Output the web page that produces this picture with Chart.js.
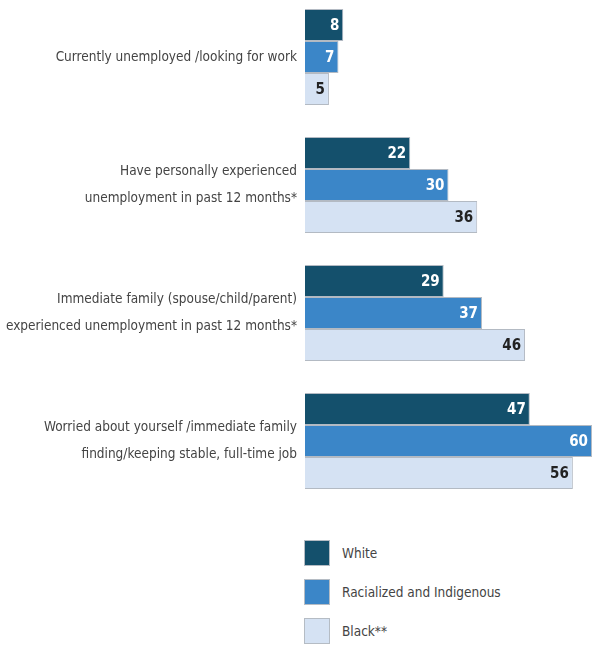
<!DOCTYPE html>
<html>
<head>
<meta charset="utf-8">
<script src="https://cdn.jsdelivr.net/npm/chart.js@4"></script>
<style>
  body { margin: 0; background: #fff; width: 593px; height: 647px; overflow: hidden; position: relative; }
  #chart { position: absolute; left: 0; top: -7px; }
  #legend { position: absolute; left: 304px; top: 540px; font-family: "DejaVu Sans Condensed", sans-serif; font-size: 13.5px; color: #444; }
  .item { height: 26px; margin-bottom: 13px; display: flex; align-items: center; }
  .box { width: 26px; height: 26px; border: 1px solid #b5bcc4; box-sizing: border-box; margin-right: 12px; }
</style>
</head>
<body>
<canvas id="chart" width="593" height="512"></canvas>
<div id="legend"></div>
<script>
const categories = [
    ['Currently unemployed /looking for work'],
    ['Have personally experienced', 'unemployment in past 12 months*'],
    ['Immediate family (spouse/child/parent)', 'experienced unemployment in past 12 months*'],
    ['Worried about yourself /immediate family', 'finding/keeping stable, full-time job']
];
const seriesNames = ['White', 'Racialized and Indigenous', 'Black**'];
const white = [8, 22, 29, 47];
const racialized = [7, 30, 37, 60];
const black = [5, 36, 46, 56];

const colors = ['#14506c', '#3b86c8', '#d5e2f3'];
const labelColors = ['#ffffff', '#ffffff', '#222222'];
const fontFamily = '"DejaVu Sans Condensed", sans-serif';

// draw values at the end of each bar
const valueLabels = {
    id: 'valueLabels',
    afterDatasetsDraw(chart) {
        const ctx = chart.ctx;
        ctx.save();
        ctx.font = 'bold 15px ' + fontFamily;
        ctx.textAlign = 'right';
        ctx.textBaseline = 'middle';
        chart.data.datasets.forEach((ds, i) => {
            const meta = chart.getDatasetMeta(i);
            ctx.fillStyle = labelColors[i];
            meta.data.forEach((bar, j) => {
                ctx.fillText(ds.data[j], bar.x - 4, bar.y + 1);
            });
        });
        ctx.restore();
    }
};

const seriesData = [white, racialized, black];

new Chart(document.getElementById('chart').getContext('2d'), {
    type: 'bar',
    data: {
        labels: categories,
        datasets: seriesNames.map((name, i) => ({
            label: name,
            data: seriesData[i],
            backgroundColor: colors[i],
            borderColor: '#b3bac3',
            borderWidth: 1,
            barPercentage: 1,
            categoryPercentage: 0.75
        }))
    },
    options: {
        indexAxis: 'y',
        responsive: false,
        animation: false,
        layout: { padding: { left: 0, right: 1, top: 0, bottom: 0 } },
        plugins: {
            legend: { display: false },
            tooltip: { enabled: false }
        },
        scales: {
            x: {
                display: false,
                min: 0,
                max: 60
            },
            y: {
                grid: { display: false, drawTicks: false },
                border: { display: false },
                ticks: {
                    color: '#444',
                    padding: 8,
                    font: { family: fontFamily, size: 13.5, lineHeight: 2.05 }
                },
                afterFit(scale) {
                    scale.width = 305;
                    scale.paddingTop = 0;
                    scale.paddingBottom = 0;
                }
            }
        }
    },
    plugins: [valueLabels]
});

const legend = document.getElementById('legend');
seriesNames.forEach((name, i) => {
    const item = document.createElement('div');
    item.className = 'item';
    const box = document.createElement('span');
    box.className = 'box';
    box.style.background = colors[i];
    const text = document.createElement('span');
    text.textContent = name;
    item.appendChild(box);
    item.appendChild(text);
    legend.appendChild(item);
});
</script>
</body>
</html>
